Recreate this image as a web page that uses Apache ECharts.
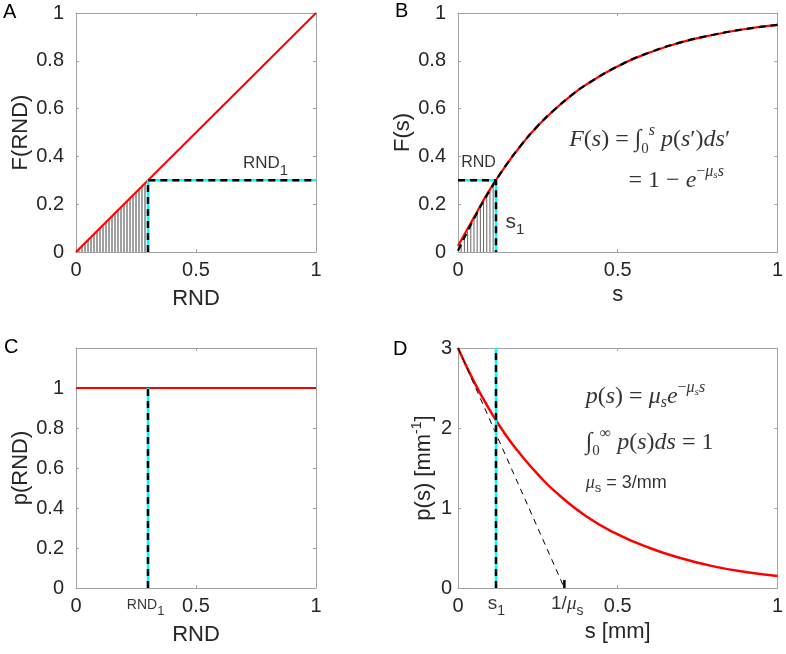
<!DOCTYPE html>
<html><head><meta charset="utf-8">
<script src="https://cdn.jsdelivr.net/npm/echarts@6/dist/echarts.min.js"></script>
<style>html,body{margin:0;padding:0;background:#fff}#c{width:786px;height:654px}</style>
</head><body><div id="c"></div><script>
// ---------------- data ----------------
const xRange = [0, 1, 0.5];          // min, max, interval (all panels)
const yRangeA = [0, 1, 0.2];
const yRangeB = [0, 1, 0.2];
const yRangeC = [0, 1.2, 0.2];
const yRangeD = [0, 3, 1];

// Panel A
const lineA = [[0, 0], [1, 1]];
const hatchAx   = [0.0125,0.025,0.0375,0.05,0.0625,0.075,0.0875,0.1,0.1125,0.125,0.1375,0.15,0.1625,0.175,0.1875,0.2,0.2125,0.225,0.2375,0.25,0.2625,0.275,0.2875];
const hatchAtop = [0.0125,0.025,0.0375,0.05,0.0625,0.075,0.0875,0.1,0.1125,0.125,0.1375,0.15,0.1625,0.175,0.1875,0.2,0.2125,0.225,0.2375,0.25,0.2625,0.275,0.2875];
const markA = [[0.3, 0], [0.3, 0.3], [1, 0.3]];

// Panel B
const curveBs    = [0, 0.05, 0.1, 0.15, 0.2, 0.25, 0.3, 0.35, 0.4, 0.5, 0.6, 0.7, 0.8, 0.9, 1.0];
const curveBred  = [0.025, 0.145, 0.262, 0.362, 0.451, 0.528, 0.593, 0.650, 0.699, 0.777, 0.835, 0.878, 0.909, 0.933, 0.950];
const curveBdash = [0.005, 0.139, 0.259, 0.362, 0.451, 0.528, 0.593, 0.650, 0.699, 0.777, 0.835, 0.878, 0.909, 0.933, 0.950];
const hatchBx   = [0.01,0.02,0.03,0.04,0.05,0.06,0.07,0.08,0.09,0.10,0.11];
const hatchBtop = [0.03,0.058,0.086,0.113,0.139,0.165,0.189,0.213,0.237,0.259,0.281];
const markB = [[0, 0.3], [0.119, 0.3], [0.119, 0]];

// Panel C
const lineC = [[0, 1], [1, 1]];
const markC = [[0.3, 0], [0.3, 1]];

// Panel D
const curveDs = [0, 0.05, 0.1, 0.15, 0.2, 0.25, 0.3, 0.4, 0.5, 0.6, 0.7, 0.8, 0.9, 1.0];
const curveDp = [3.0, 2.58, 2.22, 1.91, 1.65, 1.42, 1.22, 0.90, 0.67, 0.50, 0.37, 0.27, 0.20, 0.15];
const tangentD = [[0, 3], [0.333, 0]];
const markD = [[0.119, 0], [0.119, 3]];
const tickD = [[0.333, 0], [0.333, 0.1]];

// text annotations: [x, y]
const posA_rnd1 = [0.696, 0.37];
const posB_rnd = [0.01, 0.372];
const posB_s1 = [0.149, 0.125];
const posB_eq1 = [0.348, 0.47];
const posB_eq2 = [0.534, 0.30];
const posC_rnd1 = [0.29, -0.085];
const posD_s1 = [0.12, -0.2];
const posD_inv = [0.342, -0.2];
const posD_eq1 = [0.40, 2.39];
const posD_eq2 = [0.40, 1.82];
const posD_eq3 = [0.40, 1.31];

// ---------------- style ----------------
const AX = '#a3a3a3', TXT = '#262626';
const SANS = 'Liberation Sans, Arial, Helvetica, sans-serif';
const SERIF = 'Liberation Serif, DejaVu Serif, serif';
const RED = '#ff0000', CYAN = '#00ffff';

const grids = [
  {left: 76, top: 13, width: 240, height: 239},
  {left: 458, top: 13, width: 322, height: 239},
  {left: 76, top: 348, width: 240, height: 240},
  {left: 458, top: 348, width: 322, height: 240}
];

const panels = [
  {y: yRangeA, xname: 'RND', yname: 'F(RND)', xGap: 36, yGap: 42, yMargin: 12},
  {y: yRangeB, xname: 's', yname: 'F(s)', xGap: 32, yGap: 44, yMargin: 12},
  {y: yRangeC, xname: 'RND', yname: 'p(RND)', xGap: 36, yGap: 39, yMargin: 12, hideAbove: 1.05},
  {y: yRangeD, xname: 's [mm]', yname: '{a|p(s) [mm}{b|-1}{a|]}', xGap: 33, yGap: 20, yMargin: 6}
];

const xAxes = [], yAxes = [];
panels.forEach((p, i) => {
  const common = {gridIndex: i, type: 'value', splitLine: {show: false},
    axisLine: {show: true, onZero: false, lineStyle: {color: AX, width: 1}},
    axisTick: {show: true, inside: true, length: 3, lineStyle: {color: AX}}};
  xAxes.push(Object.assign({}, common, {
    position: 'bottom', min: xRange[0], max: xRange[1], interval: xRange[2],
    name: p.xname, nameLocation: 'middle', nameGap: p.xGap,
    nameTextStyle: {fontSize: 22, color: TXT, fontFamily: SANS},
    axisLabel: {fontSize: 20, color: TXT, fontFamily: SANS, margin: 8}
  }));
  xAxes.push(Object.assign({}, common, {
    position: 'top', min: xRange[0], max: xRange[1], interval: xRange[2],
    axisLabel: {show: false}
  }));
  yAxes.push(Object.assign({}, common, {
    position: 'left', min: p.y[0], max: p.y[1], interval: p.y[2],
    name: p.yname, nameLocation: 'middle', nameGap: p.yGap,
    nameTextStyle: {fontSize: 22, color: TXT, fontFamily: SANS,
      rich: {a: {fontSize: 22, color: TXT, fontFamily: SANS},
             b: {fontSize: 14, color: TXT, fontFamily: SANS, padding: [0, 0, 14, 0]}}},
    axisLabel: {fontSize: 20, color: TXT, fontFamily: SANS, margin: p.yMargin,
      formatter: v => (p.hideAbove && v > p.hideAbove) ? '' : String(v)}
  }));
  yAxes.push(Object.assign({}, common, {
    position: 'right', min: p.y[0], max: p.y[1], interval: p.y[2],
    axisLabel: {show: false}
  }));
});

const series = [];
function line(g, data, color, width, dash, z, smooth) {
  series.push({type: 'line', xAxisIndex: 2 * g, yAxisIndex: 2 * g, data: data,
    symbol: 'none', smooth: !!smooth, silent: true, z: z, animation: false,
    lineStyle: {color: color, width: width, type: dash || 'solid', cap: 'butt'}});
}
function hatch(g, xs, tops, color) {
  series.push({type: 'bar', xAxisIndex: 2 * g, yAxisIndex: 2 * g,
    data: xs.map((x, k) => [x, tops[k]]), barWidth: 1, silent: true, z: 1,
    itemStyle: {color: color}, animation: false});
}
function text(g, pt, fmt, rich, pos, base) {
  series.push({type: 'scatter', xAxisIndex: 2 * g, yAxisIndex: 2 * g, data: [pt],
    symbolSize: 0, clip: false, silent: true, z: 10, animation: false,
    label: Object.assign({show: true, position: pos || 'right', distance: 0, formatter: fmt, rich: rich,
      color: '#000', fontFamily: SANS}, base || {})});
}
const zip = (a, b) => a.map((v, k) => [v, b[k]]);
const DASH = [7, 5];

// Panel A
hatch(0, hatchAx, hatchAtop, '#444');
line(0, lineA, RED, 2, null, 3);
line(0, markA, CYAN, 2.5, null, 4);
line(0, markA, '#000', 2.5, DASH, 5);

// Panel B
hatch(1, hatchBx, hatchBtop, '#666');
line(1, zip(curveBs, curveBred), RED, 2.2, null, 3, true);
line(1, zip(curveBs, curveBdash), '#000', 2.2, DASH, 4, true);
line(1, markB, CYAN, 2.5, null, 5);
line(1, markB, '#000', 2.5, DASH, 6);

// Panel C
line(2, lineC, RED, 2.2, null, 3);
line(2, markC, CYAN, 2.5, null, 4);
line(2, markC, '#000', 2.5, DASH, 5);

// Panel D
line(3, zip(curveDs, curveDp), RED, 2.5, null, 3, true);
line(3, tangentD, '#000', 1, [6, 5], 4);
line(3, markD, CYAN, 2.5, null, 5);
line(3, markD, '#000', 2.5, DASH, 6);
line(3, tickD, '#000', 2.5, null, 6);

// text
const sansRich = (a, b, pad) => ({
  a: {fontFamily: SANS, fontSize: a, color: '#000'},
  g: {fontFamily: SERIF, fontStyle: 'italic', fontSize: a, color: '#000'},
  b: {fontFamily: SANS, fontSize: b, color: '#000', padding: [pad, 0, 0, 0]}
});
const M = 24;
const mathRich = {
  i: {fontFamily: SERIF, fontStyle: 'italic', fontSize: M, color: '#000'},
  n: {fontFamily: SERIF, fontSize: M, color: '#000'},
  sb: {fontFamily: SERIF, fontSize: 15, color: '#000', padding: [18, 0, 0, 0]},
  ib: {fontFamily: SERIF, fontStyle: 'italic', fontSize: 16, color: '#000', padding: [12, 0, 0, 0]},
  sp: {fontFamily: SERIF, fontStyle: 'italic', fontSize: 16, color: '#000', padding: [0, 0, 18, 0]},
  spn: {fontFamily: SERIF, fontSize: 16, color: '#000', padding: [0, 0, 18, 0]},
  ssb: {fontFamily: SERIF, fontStyle: 'italic', fontSize: 11, color: '#000', padding: [0, 0, 10, 0]}
};

text(0, posA_rnd1, '{a|RND}{b|1}', sansRich(17, 15, 14));
text(1, posB_rnd, '{a|RND}', sansRich(16, 12, 0));
text(1, posB_s1, '{a|s}{b|1}', sansRich(21, 15, 16));
text(1, posB_eq1, '{i|F}{n|(}{i|s}{n|) = ∫}{sb|0}{sp|s}{n| }{i|p}{n|(}{i|s}{n|′)}{i|ds}{n|′}', mathRich);
text(1, posB_eq2, '{n|= 1 − }{i|e}{spn|−}{sp|μ}{ssb|s}{sp|s}', mathRich);
text(2, posC_rnd1, '{a|RND}{b|1}', sansRich(14, 13, 12), 'inside');
text(3, posD_s1, '{a|s}{b|1}', sansRich(19, 14, 14), 'inside');
text(3, posD_inv, '{a|1/}{g|μ}{b|s}', sansRich(19, 14, 14), 'inside');
text(3, posD_eq1, '{i|p}{n|(}{i|s}{n|) = }{i|μ}{ib|s}{i|e}{spn|−}{sp|μ}{ssb|s}{sp|s}', mathRich);
text(3, posD_eq2, '{n|∫}{sb|0}{spn|∞}{n| }{i|p}{n|(}{i|s}{n|)}{i|ds}{n| = 1}', mathRich);
text(3, posD_eq3, '{g|μ}{b|s}{a| = 3/mm}', sansRich(18, 13, 11));

const letters = [['A', 3, 2], ['B', 395, 1], ['C', 4, 337], ['D', 393, 339]];

const chart = echarts.init(document.getElementById('c'), null, {renderer: 'canvas', width: 786, height: 654});
chart.setOption({
  animation: false,
  backgroundColor: '#fff',
  title: letters.map(l => ({text: l[0], left: l[1], top: l[2], padding: 0,
    textStyle: {fontSize: 20, fontWeight: 'normal', color: '#000', fontFamily: SANS}})),
  grid: grids,
  xAxis: xAxes,
  yAxis: yAxes,
  series: series
});
</script></body></html>
